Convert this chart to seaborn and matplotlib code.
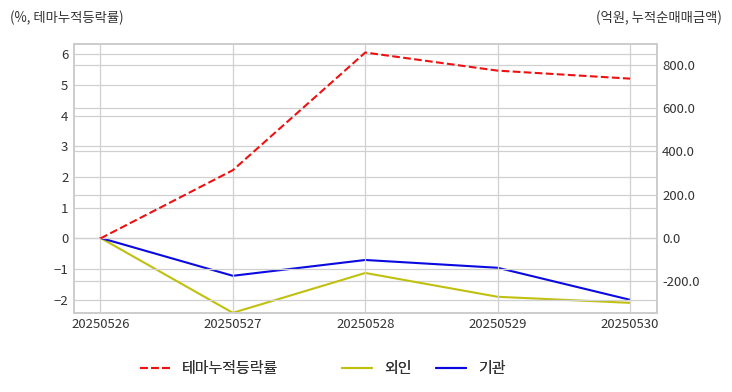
import numpy as np
import pandas as pd
import seaborn as sns
import matplotlib.pyplot as plt
from matplotlib.ticker import FormatStrFormatter

# Data
dates = ["20250526", "20250527", "20250528", "20250529", "20250530"]
theme_return = [0.0, 2.22, 6.05, 5.46, 5.2]      # %, left axis
foreign_net = [0.0, -346.0, -162.0, -272.0, -300.0]   # 억원, right axis
inst_net = [0.0, -175.0, -102.0, -138.0, -286.0]     # 억원, right axis

sns.set_style("whitegrid")
plt.rcParams["font.family"] = ["Noto Sans CJK KR", "DejaVu Sans"]

df = pd.DataFrame({
    "pos": np.arange(len(dates)),
    "theme": theme_return,
    "foreign": foreign_net,
    "inst": inst_net,
})

fig, ax = plt.subplots(figsize=(7.32, 3.92), dpi=100)
fig.subplots_adjust(left=0.101, right=0.897, top=0.888, bottom=0.202)
ax2 = ax.twinx()

sns.lineplot(data=df, x="pos", y="theme", ax=ax, color="#ee1111",
             linestyle="--", linewidth=1.5, label="테마누적등락률", legend=False)
sns.lineplot(data=df, x="pos", y="foreign", ax=ax2, color="#c0c010",
             linewidth=1.5, label="외인", legend=False)
sns.lineplot(data=df, x="pos", y="inst", ax=ax2, color="#0a0ae0",
             linewidth=1.5, label="기관", legend=False)

ax.set_xlim(-0.2, 4.2)
ax.set_ylim(-2.42, 6.33)
ax2.set_ylim(-346, 896)
ax.set_xticks(df["pos"])
ax.set_xticklabels(dates)
ax.set_yticks(np.arange(-2, 7, 1))
ax2.set_yticks(np.arange(-200, 801, 200))
ax2.yaxis.set_major_formatter(FormatStrFormatter("%.1f"))

for a in (ax, ax2):
    a.set_xlabel("")
    a.set_ylabel("")
    a.tick_params(length=0, labelsize=9.5, labelcolor="#333333", pad=4)
    a.grid(True, color="#d0d0d0", linewidth=0.9)
    for s in a.spines.values():
        s.set_color("#cccccc")
        s.set_linewidth(1.2)
ax2.grid(axis="x", visible=False)
ax.set_zorder(ax2.get_zorder() + 1)
ax.patch.set_visible(False)

fig.text(0.014, 0.955, "(%, 테마누적등락률)", fontsize=9.6, color="#333333",
         ha="left", va="center")
fig.text(0.986, 0.955, "(억원, 누적순매매금액)", fontsize=9.6, color="#333333",
         ha="right", va="center")

# legend entries placed one by one, like the reference's uneven spacing
h1, l1 = ax.get_legend_handles_labels()
h2, l2 = ax2.get_legend_handles_labels()
handles, labels = h1 + h2, l1 + l2
legend_x = [140 / 732, 342 / 732, 436 / 732]
for h, l, x in zip(handles, labels, legend_x):
    leg = fig.legend([h], [l], loc="center left", bbox_to_anchor=(x, 0.058),
                     frameon=False, fontsize=10.8, handlelength=2.0,
                     handletextpad=0.8, borderpad=0, borderaxespad=0,
                     labelcolor="#333333")
    fig.add_artist(leg)

fig.savefig("out.png", dpi=100)
